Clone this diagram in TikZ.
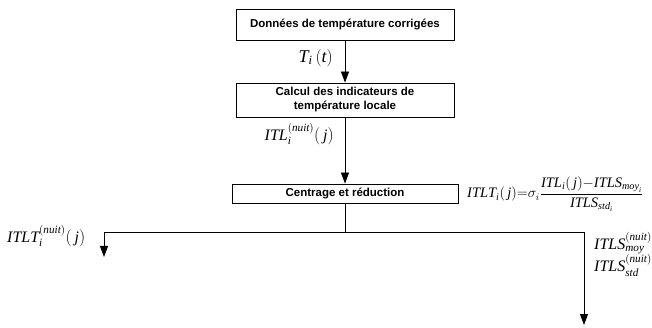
\documentclass[tikz,border=0pt]{standalone}
\usepackage{amsmath}
\usepackage{fontspec}
\setmainfont{Liberation Sans}
\newfontfamily\seriffont{Liberation Serif}[NFSSFamily=libserif]
\DeclareMathAlphabet{\mvar}{TU}{libserif}{m}{it}
\usetikzlibrary{arrows.meta}

\tikzset{
  etape/.style={draw, line width=0.8pt, inner sep=0pt, align=center,
    font=\bfseries\fontsize{11.5}{14}\selectfont, minimum width=218pt},
  fleche/.style={-{Triangle[length=11pt,width=8pt]}, line width=0.8pt},
  trait/.style={line width=0.8pt},
  etiq/.style={inner sep=0pt, font=\fontsize{16}{16.5}\selectfont}
}

\begin{document}
\begin{tikzpicture}[x=1pt,y=-1pt]
  \useasboundingbox (0,0) rectangle (652,328);
  % Étapes du traitement
  \node[etape, minimum height=31pt] (donnees) at (345,24.5) {Données de température corrigées};
  \node[etape, minimum height=34pt] (calcul) at (345,100) {Calcul des indicateurs de\\température locale};
  \node[etape, minimum width=226pt, minimum height=19pt] (centrage) at (345,193.5) {Centrage et réduction};

  % Branches de sortie
  \coordinate (embr) at (345,232);
  \coordinate (gauche) at (104,232);
  \coordinate (droite) at (584,232);
  \coordinate (finG) at (104,257);
  \coordinate (finD) at (584,325);

  \draw[fleche] (donnees) -- (calcul);
  \draw[fleche] (calcul) -- (centrage);
  \draw[trait] (centrage) -- (embr);
  \draw[fleche] (embr) -- (gauche) -- (finG);
  \draw[fleche] (embr) -- (droite) -- (finD);

  % Étiquettes
  \node[etiq, anchor=east, font=\fontsize{18}{20}\selectfont] (Ti) at (333,58)
    {$\mvar{T}_{\mvar{i}}\,(\mvar{t})$};
  \node[etiq, anchor=east] (itl) at (334,134)
    {$\mvar{ITL}_{\mvar{i}}^{(\mvar{nuit})}(\,\mvar{j})$};
  \node[etiq, anchor=west, font=\fontsize{14.5}{15}\selectfont] (itlt) at (467,194)
    {$\mvar{ITLT}_{\mvar{i}}(\,\mvar{j}){=}\sigma_i\dfrac{\mvar{ITL}_{\mvar{i}}(\,\mvar{j}){-}\mvar{ITLS}_{\mvar{moy}_{\mvar{i}}}}{\mvar{ITLS}_{\mvar{std}_{\mvar{i}}}}$};
  \node[etiq, anchor=west] (itltn) at (7,236)
    {$\mvar{ITLT}_{\mvar{i}}^{(\mvar{nuit})}(\,\mvar{j})$};
  \node[etiq, anchor=north west, align=left] (itls) at (594,232)
    {$\mvar{ITLS}_{\mvar{moy}}^{(\mvar{nuit})}$\\$\mvar{ITLS}_{\mvar{std}}^{(\mvar{nuit})}$};
\end{tikzpicture}
\end{document}
